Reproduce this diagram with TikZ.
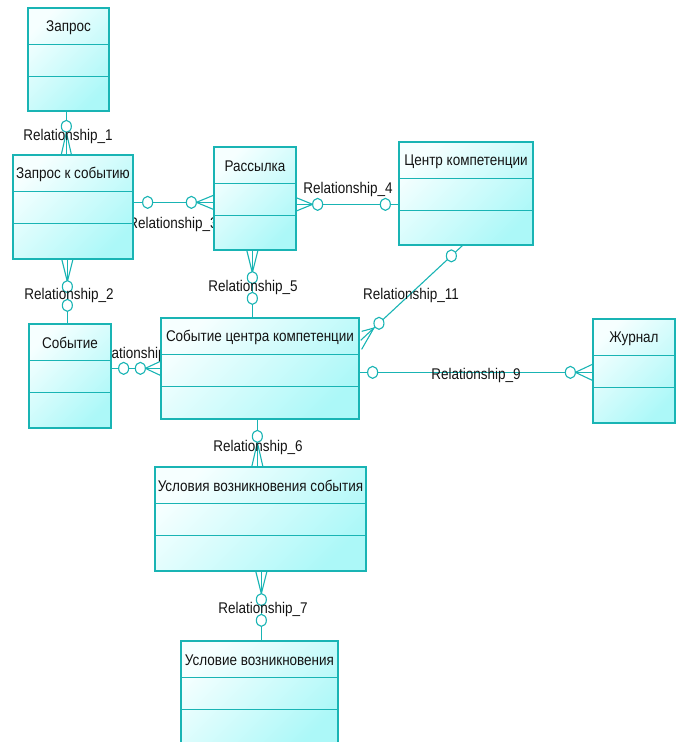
\documentclass[tikz,border=0pt]{standalone}
\usepackage{fontspec}
\setmainfont{Liberation Sans}[FakeStretch=0.87]
\usetikzlibrary{calc,fit,shapes.geometric,backgrounds}
\definecolor{erline}{RGB}{25,180,180}
\definecolor{erfilltop}{RGB}{246,255,255}
\definecolor{erfillbot}{RGB}{172,248,248}
\definecolor{ertext}{RGB}{20,20,20}

\tikzset{
  entity/.style={draw=erline,line width=1.3pt,top color=erfilltop,
                 bottom color=erfillbot,shading angle=45,inner sep=0pt},
  rel/.style={draw=erline,line width=1.1pt},
  zero/.style={ellipse,draw=erline,fill=white,line width=1.1pt,
               minimum width=10pt,minimum height=12pt,inner sep=0pt},
  rellabel/.style={font=\fontsize{15.5}{18}\selectfont,text=ertext,inner sep=0pt},
  entitle/.style={font=\fontsize{15.5}{18}\selectfont,text=ertext,inner sep=0pt}
}

% entity: name, left, top, right, bottom, title
\newcommand\erentity[6]{%
  \node[entity,fit={(#2,#3) (#4,#5)}] (#1) {};
  \draw[rel] ($(#1.north west)+(0,37)$) -- ($(#1.north east)+(0,37)$)
             ($(#1.north west)+(0,69)$) -- ($(#1.north east)+(0,69)$);
  \node[entitle] (#1-title) at ($(#1.north)+(0,20)$) {#6};}
% many end: box point, other point, crow length, spread, circle distance
\newcommand\manyend[5]{%
  \draw[rel] ($(#1)!#3!(#2)$) -- ($(#1)!#4!90:(#2)$)
             ($(#1)!#3!(#2)$) -- ($(#1)!#4!-90:(#2)$);
  \node[zero] at ($(#1)!#5!(#2)$) {};}
% zero end: box point, other point, circle distance
\newcommand\zeroend[3]{\node[zero] at ($(#1)!#3!(#2)$) {};}

\begin{document}
\begin{tikzpicture}[x=1pt,y=-1pt]
  \useasboundingbox (0,0) rectangle (683,742);

  \erentity{zapros}{28}{8}{109}{111}{Запрос}
  \erentity{zk}{13}{155}{133}{259}{Запрос к событию}
  \erentity{rass}{214}{147}{296}{250}{Рассылка}
  \erentity{centr}{399}{142}{533}{245}{Центр компетенции}
  \erentity{sob}{29}{324}{111}{428}{Событие}
  \erentity{sc}{161}{318}{359}{419}{Событие центра компетенции}
  \erentity{zhurnal}{593}{319}{675}{423}{Журнал}
  \erentity{usl}{155}{467}{366}{571}{Условия возникновения события}
  \erentity{uslovie}{181}{641}{338}{745}{Условие возникновения}

  \begin{scope}[on background layer]
    % connector ends
    \coordinate (r1a) at ($(zapros.south west)+(39,0)$);
    \coordinate (r1b) at ($(zk.north west)+(54,0)$);
    \coordinate (r2a) at ($(zk.south west)+(55,0)$);
    \coordinate (r2b) at ($(sob.north west)+(39,0)$);
    \coordinate (r3a) at ($(zk.north east)+(0,48)$);
    \coordinate (r3b) at ($(rass.north west)+(0,56)$);
    \coordinate (r4a) at ($(rass.north east)+(0,58)$);
    \coordinate (r4b) at ($(centr.north west)+(0,63)$);
    \coordinate (r5a) at ($(rass.south west)+(39,0)$);
    \coordinate (r5b) at ($(sc.north west)+(92,0)$);
    \coordinate (r6a) at ($(sc.south west)+(97,0)$);
    \coordinate (r6b) at ($(usl.north west)+(103,0)$);
    \coordinate (r7a) at ($(usl.south west)+(107,0)$);
    \coordinate (r7b) at ($(uslovie.north west)+(81,0)$);
    \coordinate (r8a) at ($(sob.north east)+(0,45)$);
    \coordinate (r8b) at ($(sc.north west)+(0,51)$);
    \coordinate (r9a) at ($(sc.north east)+(0,55)$);
    \coordinate (r9b) at ($(zhurnal.north west)+(0,54)$);
    \coordinate (r11a) at ($(centr.south west)+(64,0)$);
    \coordinate (r11b) at ($(sc.north east)+(1,23)$);

    \draw[rel] (r1a) -- (r1b);
    \manyend{r1b}{r1a}{22pt}{5pt}{28pt}
    \draw[rel] (r2a) -- (r2b);
    \manyend{r2a}{r2b}{22pt}{5.5pt}{27pt}
    \zeroend{r2b}{r2a}{18pt}
    \draw[rel] (r3a) -- (r3b);
    \zeroend{r3a}{r3b}{14pt}
    \manyend{r3b}{r3a}{17pt}{7pt}{22pt}
    \draw[rel] (r4a) -- (r4b);
    \manyend{r4a}{r4b}{16pt}{6.5pt}{21pt}
    \zeroend{r4b}{r4a}{13pt}
    \draw[rel] (r5a) -- (r5b);
    \manyend{r5a}{r5b}{22pt}{5.5pt}{27pt}
    \zeroend{r5b}{r5a}{19pt}
    \draw[rel] (r6a) -- (r6b);
    \manyend{r6b}{r6a}{24pt}{5.5pt}{30pt}
    \draw[rel] (r7a) -- (r7b);
    \manyend{r7a}{r7b}{22pt}{5.5pt}{28pt}
    \zeroend{r7b}{r7a}{20pt}
    \draw[rel] (r8a) -- (r8b);
    \zeroend{r8a}{r8b}{12pt}
    \manyend{r8b}{r8a}{15pt}{7pt}{20pt}
    \draw[rel] (r9a) -- (r9b);
    \zeroend{r9a}{r9b}{13pt}
    \manyend{r9b}{r9a}{17pt}{8pt}{22pt}
    \draw[rel] (r11a) -- (r11b);
    \zeroend{r11a}{r11b}{15pt}
    \draw[rel] ($(r11b)!18pt!(r11a)$) -- ($(sc.north east)+(2,14)$)
               ($(r11b)!18pt!(r11a)$) -- ($(sc.north east)+(2,32)$);
    \node[zero] at ($(r11b)!25pt!(r11a)$) {};

    % relationship names
    \node[rellabel] (l1) at (68,136) {Relationship\_1};
    \node[rellabel] (l2) at (69,295) {Relationship\_2};
    \node[rellabel] (l3) at (173,224) {Relationship\_3};
    \node[rellabel] (l4) at (348,189) {Relationship\_4};
    \node[rellabel] (l5) at (253,287) {Relationship\_5};
    \node[rellabel] (l6) at (258,447) {Relationship\_6};
    \node[rellabel] (l7) at (263,609) {Relationship\_7};
    \node[rellabel] (l8) at (136,354) {Relationship\_8};
    \node[rellabel] (l9) at (476,375) {Relationship\_9};
    \node[rellabel] (l11) at (411,295) {Relationship\_11};
  \end{scope}
\end{tikzpicture}
\end{document}
